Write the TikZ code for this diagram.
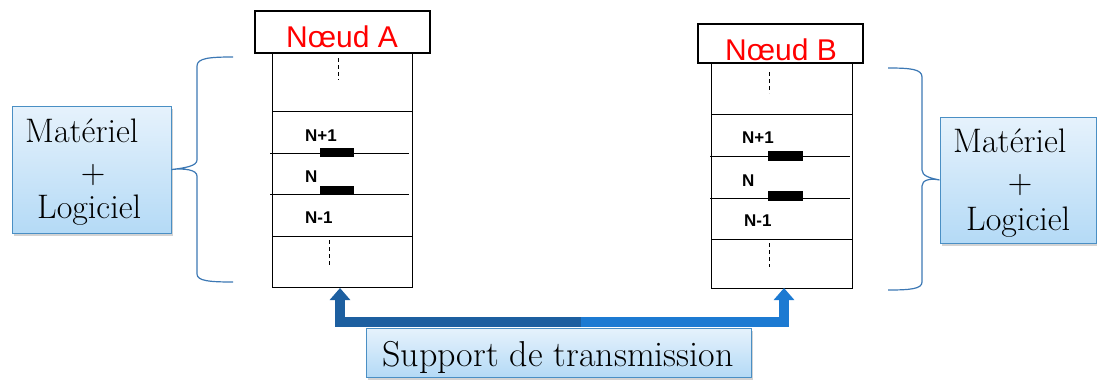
\documentclass[tikz,border=0pt]{standalone}
\usepackage{fontspec}
\newfontfamily\arialf{Liberation Sans}
\usetikzlibrary{arrows.meta,shadows}
\definecolor{bracecol}{HTML}{3C78B4}
\definecolor{boxborder}{HTML}{4A8FC4}
\definecolor{boxtop}{HTML}{E6F2FC}
\definecolor{boxbot}{HTML}{B4DAF6}
\definecolor{arrdark}{HTML}{1D5FA0}
\definecolor{arrbright}{HTML}{1C7AD2}
\begin{document}
\begin{tikzpicture}[x=1pt,y=-1pt,
  titlebox/.style={draw=black, line width=1.2pt, fill=white, inner sep=0pt},
  stackbox/.style={draw=black, line width=0.9pt, inner sep=0pt},
  titletext/.style={text=red, font=\arialf\fontsize{30}{32}\selectfont, inner sep=0pt},
  layertext/.style={font=\arialf\bfseries\fontsize{17}{19}\selectfont, inner sep=0pt, anchor=base west},
  layerline/.style={draw=black, line width=0.8pt},
  dashline/.style={draw=black, line width=0.8pt, dash pattern=on 4pt off 3pt},
  bar/.style={fill=black},
  bluebox/.style={draw=boxborder, line width=1pt, top color=boxtop, bottom color=boxbot, inner sep=0pt,
    drop shadow={shadow xshift=2pt, shadow yshift=-3pt, opacity=0.35}},
  bigtext/.style={font=\fontsize{34}{38}\selectfont, inner sep=0pt, anchor=base west},
  brace/.style={draw=bracecol, line width=1.2pt},
  arrowdark/.style={draw=arrdark, line width=10pt},
  arrowbright/.style={draw=arrbright, line width=10pt},
]
\useasboundingbox (0,0) rectangle (1097,381);

% ---------- Node A ----------
\node[stackbox, minimum width=140, minimum height=234] (stackA) at (342,170) {};
\node[titlebox, minimum width=175, minimum height=42] (titleA) at (342.5,32) {};
\node[titletext] (titleAtxt) at (342,37) {Nœud A};
\draw[layerline] (272,111) -- (412,111);
\draw[layerline] (270,153) -- (409,153);
\draw[layerline] (270,194) -- (409,194);
\draw[layerline] (272,236) -- (412,236);
\fill[bar] (320,148) rectangle (354,157);
\fill[bar] (320,186) rectangle (354,195);
\node[layertext] (nA1) at (305,141) {N+1};
\node[layertext] (nA2) at (305,182) {N};
\node[layertext] (nA3) at (305,223) {N-1};
\draw[dashline] (338,58) -- (338,80);
\draw[dashline] (329,240) -- (329,267);

% ---------- Node B ----------
\node[stackbox, minimum width=141, minimum height=225] (stackB) at (781.5,175.5) {};
\node[titlebox, minimum width=165, minimum height=39] (titleB) at (780.5,43.5) {};
\node[titletext] (titleBtxt) at (781,50) {Nœud B};
\draw[layerline] (711,114) -- (852,114);
\draw[layerline] (710,156) -- (850,156);
\draw[layerline] (710,198) -- (850,198);
\draw[layerline] (711,239) -- (852,239);
\fill[bar] (768,151) rectangle (803,161);
\fill[bar] (768,191) rectangle (803,201);
\node[layertext] (nB1) at (742,143) {N+1};
\node[layertext] (nB2) at (742,186) {N};
\node[layertext] (nB3) at (744,226) {N-1};
\draw[dashline] (769,72) -- (769,93);
\draw[dashline] (769,243) -- (769,267);

% ---------- Left box + brace ----------
\node[bluebox, minimum width=159, minimum height=127] (matL) at (91.5,169.5) {};
\node[bigtext] (matL1) at (25,142) {Matériel};
\node[bigtext, anchor=center] (matL2) at (93,175) {+};
\node[bigtext] (matL3) at (37,218) {Logiciel};
\coordinate (tipL) at (matL.east);
\draw[brace] (233,57) .. controls (210,57) and (197,58) .. (197,66)
  -- (197,160) .. controls (197,166) and (185,168) .. (tipL)
  .. controls (185,168) and (197,170) .. (197,176)
  -- (197,274) .. controls (197,281) and (210,282) .. (233,282);

% ---------- Right box + brace ----------
\node[bluebox, minimum width=156, minimum height=126] (matR) at (1018,180) {};
\node[bigtext] (matR1) at (953,152) {Matériel};
\node[bigtext, anchor=center] (matR2) at (1020,185) {+};
\node[bigtext] (matR3) at (966,230) {Logiciel};
\coordinate (tipR) at (matR.west);
\draw[brace] (888,68) .. controls (910,68) and (922,69) .. (922,77)
  -- (922,170) .. controls (922,176) and (930,178) .. (tipR)
  .. controls (930,178) and (922,180) .. (922,186)
  -- (922,282) .. controls (922,289) and (910,290) .. (888,290);

% ---------- Transmission support ----------
\coordinate (mid) at (582,322);
\coordinate (arrA) at (340,288);
\coordinate (arrB) at (784,288);
\draw[arrowdark, line join=miter, -{Triangle[length=12pt,width=20pt]}]
  (mid) -- (arrA |- mid) -- (arrA);
\draw[arrowbright, line join=miter, -{Triangle[length=12pt,width=20pt]}]
  ([xshift=-1pt]mid) -- (arrB |- mid) -- (arrB);
\node[bluebox, minimum width=385, minimum height=49] (support) at (558.5,352.5) {};
\node[bigtext, font=\fontsize{36}{40}\selectfont, anchor=base] (supporttxt) at (558,366) {Support de transmission};
\end{tikzpicture}
\end{document}
